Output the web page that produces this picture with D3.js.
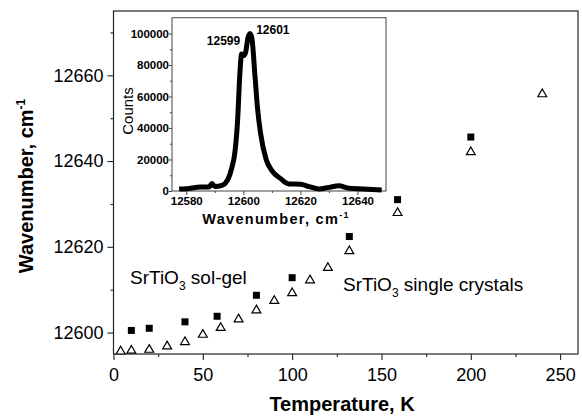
<!DOCTYPE html>
<html>
<head>
<meta charset="utf-8">
<script src="https://cdn.jsdelivr.net/npm/d3@7"></script>
<style>
  body { margin: 0; background: #fff; }
  svg text { font-family: "Liberation Sans", Arial, sans-serif; fill: #000; }
</style>
</head>
<body>
<div id="chart"></div>
<script>
const width = 582;
const height = 418;

// sol-gel (filled squares)
const solTemp = [10, 20, 40, 58, 80, 100, 132, 159, 200];
const solWave = [12600.5, 12601, 12602.5, 12603.8, 12608.7, 12612.8, 12622.4, 12631, 12645.6];

// single crystals (open triangles)
const crysTemp = [4, 10, 20, 30, 40, 50, 60, 70, 80, 90, 100, 110, 120, 132, 159, 200, 240];
const crysWave = [12595.6, 12595.8, 12596, 12596.8, 12597.8, 12599.5, 12601.1, 12603.1, 12605.2,
    12607.4, 12609.2, 12612.2, 12615.1, 12619, 12627.9, 12642.1, 12655.6];

// inset spectrum
const specWave = [12577.5, 12580, 12585, 12588, 12589, 12590, 12592.5, 12594.5, 12596, 12597, 12598,
    12598.8, 12599.4, 12600.2, 12600.8, 12601.6, 12602.3, 12603, 12604, 12605, 12606, 12608, 12610,
    12613, 12616, 12620, 12623, 12626.5, 12630, 12633.5, 12637, 12642, 12648.5];
const specCounts = [1200, 1500, 2500, 2600, 4800, 2800, 3500, 7000, 15000, 24000, 45000,
    75000, 87000, 86000, 88000, 97000, 100000, 97000, 75000, 52000, 37000, 20000, 13000,
    8000, 4500, 4300, 2800, 1300, 2300, 3300, 1800, 1300, 600];

const xTicks = [0, 50, 100, 150, 200, 250];
const yTicks = [12600, 12620, 12640, 12660];
const insetXTicks = [12580, 12600, 12620, 12640];
const insetYTicks = [0, 20000, 40000, 60000, 80000, 100000];
const peakLabels = [{text: "12599", wn: 12598.9, c: 92600, anchor: "end"},
                    {text: "12601", wn: 12604.5, c: 99600, anchor: "start"}];

const svg = d3.select("#chart")
    .append("svg")
    .attr("width", width)
    .attr("height", height);

const m = {left: 113.5, right: 578, top: 11, bottom: 354};

const x = d3.scaleLinear().domain([0, 260]).range([m.left, m.right]);
const y = d3.scaleLinear().domain([12595, 12675]).range([m.bottom, m.top]);

// frame
svg.append("rect")
    .attr("x", m.left).attr("y", m.top)
    .attr("width", m.right - m.left).attr("height", m.bottom - m.top)
    .attr("fill", "none").attr("stroke", "#222").attr("stroke-width", 1.2);

// minor ticks
svg.append("g").attr("transform", `translate(0,${m.bottom})`)
    .call(d3.axisBottom(x).tickValues(d3.range(25, 260, 50)).tickSize(3).tickFormat(""))
    .call(g => g.select(".domain").remove());
svg.append("g").attr("transform", `translate(${m.left},0)`)
    .call(d3.axisLeft(y).tickValues([12610, 12630, 12650, 12670]).tickSize(3).tickFormat(""))
    .call(g => g.select(".domain").remove());

const xAxis = svg.append("g").attr("transform", `translate(0,${m.bottom})`)
    .call(d3.axisBottom(x).tickValues(xTicks).tickSize(6).tickPadding(8).tickFormat(d3.format("d")));
const yAxis = svg.append("g").attr("transform", `translate(${m.left},0)`)
    .call(d3.axisLeft(y).tickValues(yTicks).tickSize(6).tickPadding(4).tickFormat(d3.format("d")));

svg.selectAll(".tick line").attr("stroke", "#222").attr("stroke-width", 1.1);
[xAxis, yAxis].forEach(a => {
    a.select(".domain").remove();
    a.selectAll("text").attr("font-size", 18).attr("font-family", "Liberation Sans, Arial, sans-serif").attr("fill", "#000");
});

// axis titles
svg.append("text")
    .attr("x", 342).attr("y", 411)
    .attr("text-anchor", "middle")
    .attr("font-size", 20).attr("font-weight", "bold")
    .text("Temperature, K");

const yt = svg.append("text")
    .attr("transform", "translate(33,186) rotate(-90)")
    .attr("text-anchor", "middle")
    .attr("font-size", 20).attr("font-weight", "bold");
yt.append("tspan").text("Wavenumber, cm");
yt.append("tspan").attr("dy", -8).attr("font-size", 12).text("-1");

// series labels
function srtio(xp, yp, rest) {
    const t = svg.append("text").attr("x", xp).attr("y", yp).attr("font-size", 19);
    t.append("tspan").text("SrTiO");
    t.append("tspan").attr("dy", 6).attr("font-size", 12).text("3");
    t.append("tspan").attr("dy", -6).text(rest);
}
srtio(130, 284, " sol-gel");
srtio(343, 291, " single crystals");

// markers
svg.append("g").selectAll("path")
    .data(crysTemp.map((t, i) => [t, crysWave[i]]))
    .enter().append("path")
    .attr("d", d3.symbol(d3.symbolTriangle, 34))
    .attr("transform", d => `translate(${x(d[0])},${y(d[1])})`)
    .attr("fill", "#fff").attr("stroke", "#000").attr("stroke-width", 1.2);

svg.append("g").selectAll("rect")
    .data(solTemp.map((t, i) => [t, solWave[i]]))
    .enter().append("rect")
    .attr("x", d => x(d[0]) - 3.5).attr("y", d => y(d[1]) - 3.5)
    .attr("width", 7).attr("height", 7)
    .attr("fill", "#000");

// ---- inset ----
const im = {left: 172, right: 386, top: 17.7, bottom: 191};
const ix = d3.scaleLinear().domain([12575, 12650]).range([im.left, im.right]);
const iy = d3.scaleLinear().domain([0, 110000]).range([im.bottom, im.top]);

const inset = svg.append("g");
inset.append("rect")
    .attr("x", im.left).attr("y", im.top)
    .attr("width", im.right - im.left).attr("height", im.bottom - im.top)
    .attr("fill", "#fff").attr("stroke", "#555").attr("stroke-width", 1.1);

inset.append("g").attr("transform", `translate(0,${im.bottom})`)
    .call(d3.axisBottom(ix).tickValues([12590, 12610, 12630]).tickSize(2).tickFormat(""))
    .call(g => g.select(".domain").remove());
inset.append("g").attr("transform", `translate(${im.left},0)`)
    .call(d3.axisLeft(iy).tickValues(d3.range(10000, 110000, 20000)).tickSize(2).tickFormat(""))
    .call(g => g.select(".domain").remove());

const ixAxis = inset.append("g").attr("transform", `translate(0,${im.bottom})`)
    .call(d3.axisBottom(ix).tickValues(insetXTicks).tickSize(4).tickPadding(2).tickFormat(d3.format("d")));
const iyAxis = inset.append("g").attr("transform", `translate(${im.left},0)`)
    .call(d3.axisLeft(iy).tickValues(insetYTicks).tickSize(3).tickPadding(0).tickFormat(d3.format("d")));
[ixAxis, iyAxis].forEach(a => {
    a.select(".domain").remove();
    a.selectAll("text").attr("font-size", 11.5).attr("font-weight", "bold")
        .attr("font-family", "Liberation Sans, Arial, sans-serif").attr("fill", "#000");
});
inset.selectAll(".tick line").attr("stroke", "#444");

const specLine = d3.line()
    .x((d, i) => ix(specWave[i]))
    .y(d => iy(d))
    .curve(d3.curveMonotoneX);

inset.append("path")
    .datum(specCounts)
    .attr("d", specLine)
    .attr("fill", "none")
    .attr("stroke", "#000")
    .attr("stroke-width", 5)
    .attr("stroke-linejoin", "round");

inset.selectAll(".peak")
    .data(peakLabels)
    .enter().append("text")
    .attr("x", d => ix(d.wn)).attr("y", d => iy(d.c))
    .attr("text-anchor", d => d.anchor)
    .attr("font-size", 12).attr("font-weight", "bold")
    .text(d => d.text);

inset.append("text")
    .attr("transform", "translate(133,111) rotate(-90)")
    .attr("text-anchor", "middle")
    .attr("font-size", 15)
    .text("Counts");

const ixt = inset.append("text")
    .attr("x", 276).attr("y", 224)
    .attr("text-anchor", "middle")
    .attr("font-size", 14.5).attr("font-weight", "bold")
    .attr("letter-spacing", 1.3);
ixt.append("tspan").text("Wavenumber, cm");
ixt.append("tspan").attr("dy", -6).attr("font-size", 9).text("-1");
</script>
</body>
</html>
